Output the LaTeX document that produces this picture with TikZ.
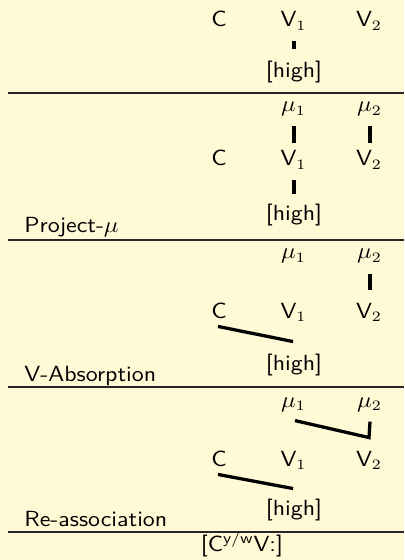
\documentclass[tikz,border=0pt]{standalone}
\usepackage{graphicx}
\usetikzlibrary{calc}
\definecolor{bg}{RGB}{255,249,214}
\newcommand{\sx}[1]{\scalebox{1.09}[1]{#1}}
\begin{document}
\begin{tikzpicture}[x=0.488pt,y=-0.488pt,
  txt/.style={anchor=base,inner sep=0pt,font=\fontsize{10.7}{13}\sffamily},
  lbl/.style={anchor=base west,inner sep=0pt,font=\fontsize{10.7}{13}\sffamily},
  assoc/.style={line width=1.6pt,line join=miter},
  rule/.style={line width=0.55pt,black!85}]
\fill[bg] (0,0) rectangle (404,560);
\useasboundingbox (0,0) rectangle (404,560);
% rules
\draw[rule] (8,93) -- (404,93);
\draw[rule] (8,240) -- (404,240);
\draw[rule] (8,387) -- (404,387);
\draw[rule] (8,532) -- (404,532);
% panel 1
\node[txt] (C1) at (219,27) {\sx{C}};
\node[txt] (V11) at (293.5,27) {\sx{V$_1$}};
\node[txt] (V12) at (369,27) {\sx{V$_2$}};
\node[txt] (H1) at (294,78) {\sx{[high]}};
\draw[assoc] ($(V11.south)+(0.5,10.7)$) -- ($(H1.north)+(0,-12.6)$);
% panel 2
\node[txt] (M21) at (293.5,112) {\sx{$\mu_1$}};
\node[txt] (M22) at (369.5,112) {\sx{$\mu_2$}};
\node[txt] (C2) at (219,166) {\sx{C}};
\node[txt] (V21) at (293.5,166) {\sx{V$_1$}};
\node[txt] (V22) at (369,166) {\sx{V$_2$}};
\node[txt] (H2) at (294,221) {\sx{[high]}};
\node[lbl] (L2) at (24,233) {\sx{Project-$\mu$}};
\draw[assoc] ($(M21.south)+(0.5,8.8)$) -- ($(V21.north)+(0.5,-7.8)$);
\draw[assoc] ($(M22.south)+(0.5,8.8)$) -- ($(V22.north)+(1,-7.8)$);
\draw[assoc] ($(V21.south)+(0.5,10.7)$) -- ($(H2.north)+(0,-10.6)$);
% panel 3
\node[txt] (M31) at (293.5,259) {\sx{$\mu_1$}};
\node[txt] (M32) at (369.5,259) {\sx{$\mu_2$}};
\node[txt] (C3) at (219,318) {\sx{C}};
\node[txt] (V31) at (293.5,318) {\sx{V$_1$}};
\node[txt] (V32) at (369,318) {\sx{V$_2$}};
\node[txt] (H3) at (294,370) {\sx{[high]}};
\node[lbl] (L3) at (24,381.7) {\sx{V-Absorption}};
\draw[assoc] ($(M32.south)+(0.5,9.8)$) -- ($(V32.north)+(1,-12.8)$);
\draw[assoc] ($(C3.south)+(-1,7.8)$) -- ($(H3.north)+(-1,-11.6)$);
% panel 4
\node[txt] (M41) at (293.5,407) {\sx{$\mu_1$}};
\node[txt] (M42) at (369.5,407) {\sx{$\mu_2$}};
\node[txt] (C4) at (219,466.5) {\sx{C}};
\node[txt] (V41) at (293.5,466.5) {\sx{V$_1$}};
\node[txt] (V42) at (369,466.5) {\sx{V$_2$}};
\node[txt] (H4) at (294,515) {\sx{[high]}};
\node[lbl] (L4) at (24,526.7) {\sx{Re-association}};
\draw[assoc] ($(M41.south)+(1.5,8.8)$) -- ($(V42.north)+(0,-13.3)$) -- ($(M42.south)+(0.5,9.8)$);
\draw[assoc] ($(C4.south)+(-1,7.3)$) -- ($(H4.north)+(-1,-9.6)$);
% result
\node[txt] (R) at (242,551.5) {\sx{[C\textsuperscript{y/w}V:]}};
\end{tikzpicture}
\end{document}
